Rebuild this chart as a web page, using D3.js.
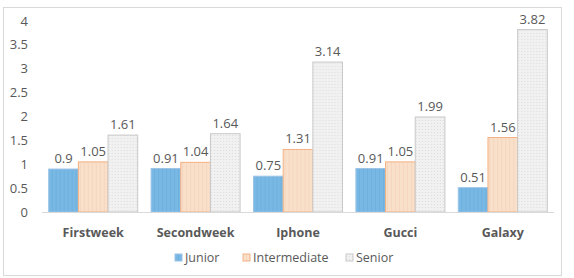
<!DOCTYPE html>
<html>
<head>
<meta charset="utf-8">
<script src="https://cdn.jsdelivr.net/npm/d3@7"></script>
<style>
  body { margin: 0; background: #fff; }
  svg { display: block; font-family: "Open Sans", sans-serif; }
</style>
</head>
<body>
<svg width="574" height="278"></svg>
<script>
const categories = ['Firstweek', 'Secondweek', 'Iphone', 'Gucci', 'Galaxy'];
const seriesNames = ['Junior', 'Intermediate', 'Senior'];
const junior = [0.9, 0.91, 0.75, 0.91, 0.51];
const intermediate = [1.05, 1.04, 1.31, 1.05, 1.56];
const senior = [1.61, 1.64, 3.14, 1.99, 3.82];
const yTicks = [0, 0.5, 1, 1.5, 2, 2.5, 3, 3.5, 4];

const series = [junior, intermediate, senior];
const fills = ['url(#pJunior)', 'url(#pInter)', 'url(#pSenior)'];
const strokes = ['#9DC3E6', '#F4B183', '#C9C9C9'];

const svg = d3.select('svg');

// ---- patterns
const defs = svg.append('defs');
function stripes(id, bg, line) {
    const p = defs.append('pattern').attr('id', id)
        .attr('patternUnits', 'userSpaceOnUse').attr('width', 4).attr('height', 4);
    p.append('rect').attr('width', 4).attr('height', 4).attr('fill', bg);
    p.append('rect').attr('x', 3).attr('width', 1).attr('height', 4).attr('fill', line);
}
stripes('pJunior', '#78B8E4', '#6FAFDC');
stripes('pInter', '#F9E0CB', '#F5D5BC');
const ps = defs.append('pattern').attr('id', 'pSenior')
    .attr('patternUnits', 'userSpaceOnUse').attr('width', 3).attr('height', 3);
ps.append('rect').attr('width', 3).attr('height', 3).attr('fill', '#F1F1F1');
ps.append('rect').attr('width', 1).attr('height', 1).attr('fill', '#DCDCDC');

// ---- frame
svg.append('rect')
    .attr('x', 3.5).attr('y', 7.5).attr('width', 558).attr('height', 268)
    .attr('fill', '#fff').attr('stroke', '#D9D9D9');

// ---- scales
const x = d3.scaleBand().domain(categories).range([42, 554]);
const inner = d3.scaleBand().domain(seriesNames)
    .range([0, 89]);
const y = d3.scaleLinear().domain([0, 4]).range([212, 21]);

// ---- y axis labels
svg.append('g').selectAll('text').data(yTicks).join('text')
    .attr('x', 28)
    .attr('y', d => y(d))
    .attr('dy', '0.35em')
    .attr('text-anchor', 'end')
    .attr('font-size', 13)
    .attr('fill', '#595959')
    .text(d => d);

// ---- bars
const groups = svg.append('g').selectAll('g').data(categories).join('g')
    .attr('transform', c => `translate(${x(c) + (x.bandwidth() - 89) / 2},0)`);

seriesNames.forEach((s, si) => {
    groups.append('rect')
        .attr('x', inner(s))
        .attr('width', inner.bandwidth())
        .attr('y', (c, i) => y(series[si][i]))
        .attr('height', (c, i) => y(0) - y(series[si][i]))
        .attr('fill', fills[si])
        .attr('stroke', strokes[si])
        .attr('stroke-width', 1);
    groups.append('text')
        .attr('x', inner(s) + inner.bandwidth() / 2)
        .attr('y', (c, i) => y(series[si][i]) - 6)
        .attr('text-anchor', 'middle')
        .attr('font-size', 13)
        .attr('fill', '#595959')
        .text((c, i) => series[si][i]);
});

// ---- baseline
svg.append('line')
    .attr('x1', 42).attr('x2', 554)
    .attr('y1', y(0) + 0.5).attr('y2', y(0) + 0.5)
    .attr('stroke', '#D9D9D9');

// ---- category labels
svg.append('g').selectAll('text').data(categories).join('text')
    .attr('x', c => x(c) + x.bandwidth() / 2)
    .attr('y', 237)
    .attr('text-anchor', 'middle')
    .attr('font-size', 12.5)
    .attr('font-weight', 'bold')
    .attr('fill', '#595959')
    .text(c => c);

// ---- legend
const legendX = [175, 243, 346];
const leg = svg.append('g').selectAll('g').data(seriesNames).join('g')
    .attr('transform', (s, i) => `translate(${legendX[i]},253)`);
leg.append('rect')
    .attr('width', 7).attr('height', 7).attr('y', 1)
    .attr('fill', (s, i) => fills[i])
    .attr('stroke', (s, i) => strokes[i]);
leg.append('text')
    .attr('x', 10).attr('y', 5).attr('dy', '0.35em')
    .attr('font-size', 12.5)
    .attr('fill', '#595959')
    .text(s => s);
</script>
</body>
</html>
